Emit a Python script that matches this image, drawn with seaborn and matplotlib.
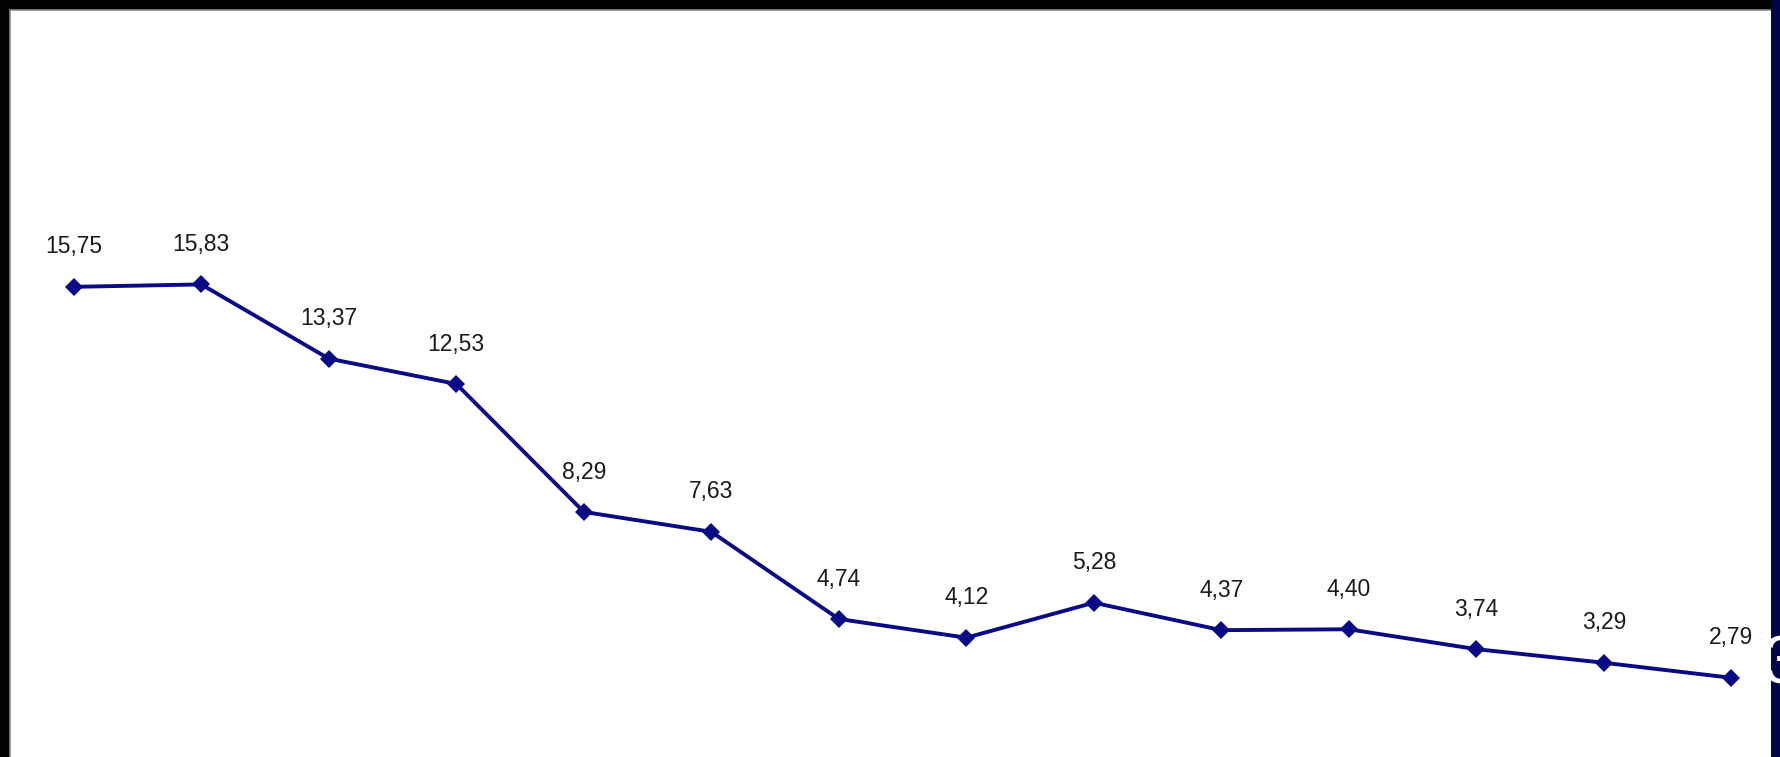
import matplotlib
matplotlib.use("Agg")
import matplotlib.pyplot as plt
import seaborn as sns
import pandas as pd
from matplotlib.patches import Rectangle

# Data
periods = list(range(1, 15))
values = [15.75, 15.83, 13.37, 12.53, 8.29, 7.63, 4.74, 4.12, 5.28, 4.37, 4.40, 3.74, 3.29, 2.79]
labels = ["15,75", "15,83", "13,37", "12,53", "8,29", "7,63", "4,74", "4,12",
          "5,28", "4,37", "4,40", "3,74", "3,29", "2,79"]

sns.set_theme(style="white")
plt.rcParams['font.family'] = ['Liberation Sans', 'DejaVu Sans']

W, H = 1780, 757
fig = plt.figure(figsize=(W / 100, H / 100), dpi=100)
fig.patch.set_facecolor("black")

# white panel with thin grey edge
fig.patches.append(Rectangle((10 / W, -20 / H), (W - 10) / W, (H - 10 + 20) / H,
                             transform=fig.transFigure, facecolor="white",
                             edgecolor="#8a8a8a", linewidth=1.2, zorder=-2))

# axes positioned so category spacing ~127.5 px and 1 unit ~30.2 px
step = 127.5
unit = 30.17
x_first = 73.8
y_zero = 762  # pixel from top
ymax = 22
left_px = x_first - 0.5 * step
width_px = 14 * step
bottom_px = H - y_zero
height_px = ymax * unit
ax = fig.add_axes([left_px / W, bottom_px / H, width_px / W, height_px / H])
ax.set_zorder(0)
ax.patch.set_alpha(0)

df = pd.DataFrame({"period": periods, "value": values})
sns.lineplot(data=df, x="period", y="value", ax=ax, color="#0a0a85",
             linewidth=2.8, marker="D", markersize=9.5, markeredgewidth=0,
             clip_on=False)
ax.set_xlim(periods[0] - 0.5, periods[-1] + 0.5)
ax.set_ylim(0, ymax)
ax.axis("off")

for p, v, lab in zip(periods, values, labels):
    ax.annotate(lab, (p, v), xytext=(0, 24), textcoords="offset points",
                ha="center", va="baseline", fontsize=16.5, color="#1a1a1a")

# navy strip at right edge with partially visible white text
fig.patches.append(Rectangle((1771 / W, 0), 9 / W, 1, transform=fig.transFigure,
                             facecolor="#03034a", edgecolor="none", zorder=5))
fig.text(1762 / W, 74 / H, "3", color="white", fontsize=50, ha="left",
         va="baseline", zorder=6)

fig.savefig("out.png", dpi=100, facecolor=fig.get_facecolor())
